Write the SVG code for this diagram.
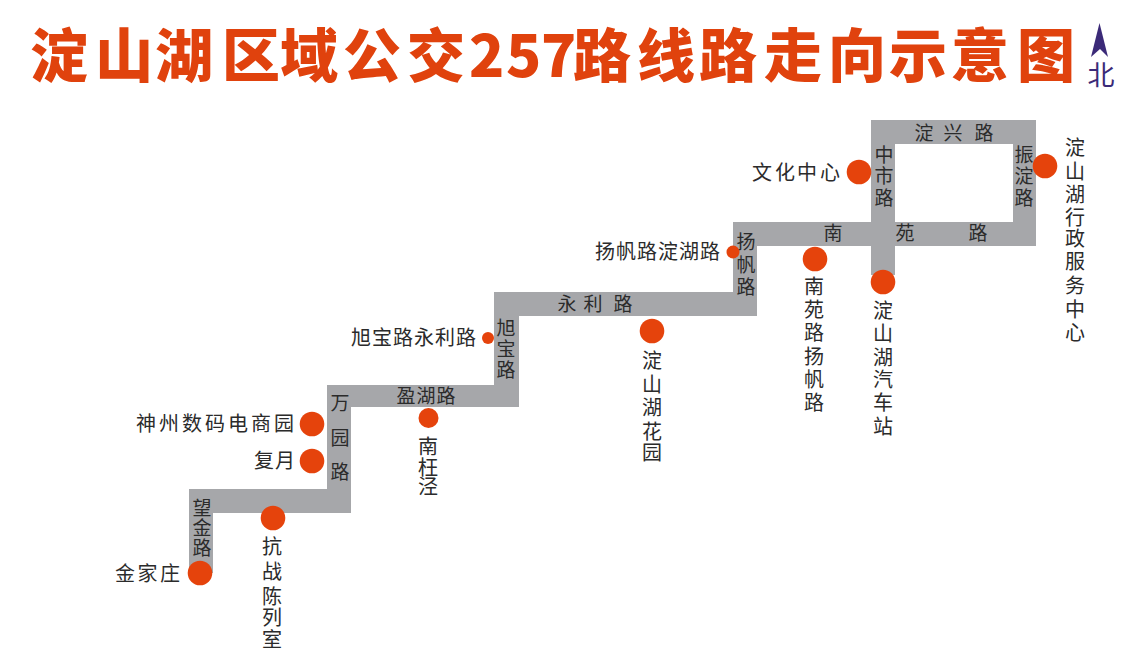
<svg xmlns="http://www.w3.org/2000/svg" width="1122" height="663" viewBox="0 0 1122 663">
<style>
.title{font-family:"Noto Sans CJK SC","Liberation Sans",sans-serif;font-weight:900;font-size:58px;fill:#e0420d}
.t{font-family:"Noto Sans CJK SC",sans-serif;font-size:20px;fill:#2b2b2b;text-anchor:middle}
.h{font-family:"Noto Sans CJK SC",sans-serif;font-size:20px;fill:#2b2b2b}
.r{font-family:"Noto Sans CJK SC",sans-serif;font-size:19px;fill:#2b2b2b;text-anchor:middle}
.road{fill:#a6a7aa}
.stop{fill:#e5430c}
</style>
<rect width="1122" height="663" fill="#fff"/>
<text class="title" y="76.500" x="30 95 155 222 280 343 407 469 506 541 573 637 699 764 828 889 951 1017">淀山湖区域公交257路线路走向示意图</text>
<g id="north"><path d="M1099.500 23L1108 57L1100 49L1091 57Z" fill="#3b2a78"/><text x="1101" y="85" font-family="Noto Sans CJK SC,sans-serif" font-size="27" fill="#3b2a78" text-anchor="middle">北</text></g>
<g id="connectors">
<path class="road" fill-rule="evenodd" d="M871 120H1036V246H895V275H871V246H757V316H519V407H351V513H213V573H189V489H327V385H494V292H733V222H871ZM895 144V222H1013V144Z"/>
</g>
<g id="road-labels">
<text class="r" x="924 953 984" y="140">淀兴路</text>
<text class="r" x="884 884 884" y="162 183 205">中市路</text>
<text class="r" x="1024 1024 1024" y="162 183 205">振淀路</text>
<text class="r" x="833 905 978" y="240">南苑路</text>
<text class="r" x="746 746 746" y="249 272 294">扬帆路</text>
<text class="r" x="567 593 623" y="311">永利路</text>
<text class="r" x="506 506 506" y="335 356 377">旭宝路</text>
<text class="r" x="406 426 446" y="403">盈湖路</text>
<text class="r" x="340 340 340" y="410 445 479">万园路</text>
<text class="r" x="202 202 202" y="515 535 555">望金路</text>
</g>
<g id="stop-wenhua"><circle class="stop" cx="859" cy="172" r="12.300"/><text class="h" x="752 775 797 820" y="180">文化中心</text></g>
<g id="stop-xingzheng"><circle class="stop" cx="1045" cy="166" r="12.300"/><text class="t" x="1075 1075 1075 1075 1075 1075 1075 1075 1075" y="155 179 202 225 246 269 293 317 340">淀山湖行政服务中心</text></g>
<g id="stop-qiche"><circle class="stop" cx="883" cy="282" r="12.300"/><text class="t" x="883 883 883 883 883 883" y="318 341 365 387 410 434">淀山湖汽车站</text></g>
<g id="stop-nanyuan"><circle class="stop" cx="815" cy="259" r="12.300"/><text class="t" x="814 814 814 814 814 814" y="294 317 340 364 387 410">南苑路扬帆路</text></g>
<g id="stop-yangfan"><circle class="stop" cx="733" cy="252" r="6.500"/><text class="h" x="595 616 637 658 679 700" y="259">扬帆路淀湖路</text></g>
<g id="stop-huayuan"><circle class="stop" cx="652" cy="331" r="12.300"/><text class="t" x="652 652 652 652 652" y="368 392 415 439 460">淀山湖花园</text></g>
<g id="stop-xubao"><circle class="stop" cx="488" cy="338" r="6"/><text class="h" x="351 372 393 414 435 456" y="345">旭宝路永利路</text></g>
<g id="stop-nangangjing"><circle class="stop" cx="428.500" cy="418" r="10"/><text class="t" x="428 428 428" y="454 475 494">南枉泾</text></g>
<g id="stop-shenzhou"><circle class="stop" cx="312" cy="424" r="12.300"/><text class="h" x="136 159 182 205 228 251 274" y="431">神州数码电商园</text></g>
<g id="stop-fuyue"><circle class="stop" cx="312" cy="461" r="12.300"/><text class="h" x="254 275" y="468">复月</text></g>
<g id="stop-kangzhan"><circle class="stop" cx="273" cy="518" r="12.300"/><text class="t" x="272 272 272 272 272" y="554 579 604 625 647">抗战陈列室</text></g>
<g id="stop-jinjia"><circle class="stop" cx="200" cy="573" r="12.300"/><text class="h" x="115 137.500 160" y="581">金家庄</text></g>
</svg>
